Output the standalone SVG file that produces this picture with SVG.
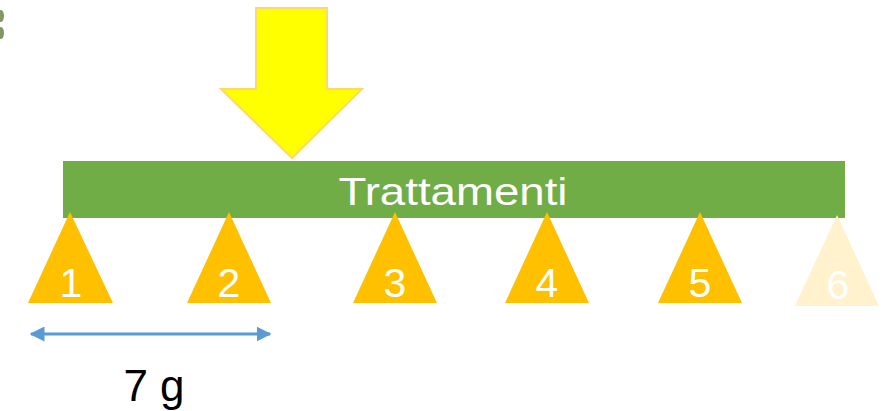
<svg xmlns="http://www.w3.org/2000/svg" width="889" height="411" viewBox="0 0 889 411">
<style>
.tri{fill:#FFC000}
.tri6{fill:#FFF2CC}
.num{font-family:"Liberation Sans",Arial,sans-serif;font-size:41px;fill:#FFFFFF;text-anchor:middle}
.lbl{font-family:"Liberation Sans",Arial,sans-serif;fill:#FFFFFF;text-anchor:middle}
</style>
<defs>
<marker id="ah" viewBox="0 0 10 10" refX="9" refY="5" markerWidth="5" markerHeight="5" orient="auto-start-reverse">
<path d="M0,0 L10,5 L0,10 z" fill="#5B9BD5"/>
</marker>
</defs>
<rect width="889" height="411" fill="#FFFFFF"/>
<g id="corner">
<ellipse cx="1" cy="16" rx="3" ry="6" fill="#4E6B1E" opacity="0.7"/>
<ellipse cx="1" cy="33" rx="3" ry="6" fill="#4E6B1E" opacity="0.7"/>
</g>
<g id="arrow-down">
<path d="M256,8 L327,8 L327,89 L362,89 L292,158 L221,89 L256,89 Z" fill="#FFFF00" stroke="#FFD966" stroke-width="2" stroke-linejoin="miter"/>
</g>
<g id="bar">
<rect x="63" y="161" width="782" height="57" fill="#70AD47"/>
<text class="lbl" x="453" y="205" font-size="39" textLength="229" lengthAdjust="spacingAndGlyphs">Trattamenti</text>
</g>
<g id="node1"><path class="tri" d="M70,212 L113,303 L28,303 Z"/><text class="num" x="71" y="297">1</text></g>
<g id="node2"><path class="tri" d="M229,212 L271,303 L187,303 Z"/><text class="num" x="229" y="297">2</text></g>
<g id="node3"><path class="tri" d="M395,212 L437,303 L353,303 Z"/><text class="num" x="395" y="297">3</text></g>
<g id="node4"><path class="tri" d="M547,212 L589,303 L505,303 Z"/><text class="num" x="547" y="297">4</text></g>
<g id="node5"><path class="tri" d="M700,212 L742,303 L658,303 Z"/><text class="num" x="700" y="297">5</text></g>
<g id="node6"><path class="tri6" d="M837,215 L879,306 L795,306 Z"/><text class="num" x="838" y="299">6</text></g>
<g id="connectors">
<line x1="31" y1="334" x2="270" y2="334" stroke="#5B9BD5" stroke-width="3" marker-start="url(#ah)" marker-end="url(#ah)"/>
</g>
<text x="154" y="401" font-family="'Liberation Sans',Arial,sans-serif" font-size="44" fill="#000000" text-anchor="middle">7 g</text>
</svg>
